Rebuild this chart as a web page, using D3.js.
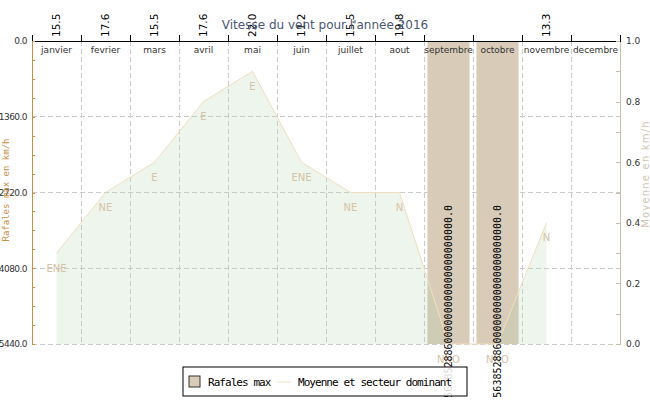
<html>
<head>
<meta charset="UTF-8"/>
<script src="https://d3js.org/d3.v7.min.js"></script>
<title>vent 2016</title>
<style>
body { margin:0; background:#fff; }
.grid line {
	stroke: #ccc;
	stroke-dasharray: 5 3;
	shape-rendering: crispEdges;
}
.axis text { font-family: "DejaVu Sans"; font-size: 9px; fill: #333; }
.axis path, .axis line { shape-rendering: crispEdges; }
</style>
</head>
<body>
<svg id='big' width=650 height=400></svg>
<script>
'use strict';

var months = ['janvier','fevrier','mars','avril','mai','juin','juillet','aout',
	'septembre','octobre','novembre','decembre'];
// valeurs affichees en haut
var moyenne = [15.5, 17.6, 15.5, 17.6, 22.0, 11.2, 15.5, 19.8, null, null, 13.3, null];
// courbe sur l'axe de droite
var courbe = [0.3, 0.5, 0.6, 0.8, 0.9, 0.6, 0.5, 0.5, 0.0, 0.0, 0.4, null];
var secteur = ['ENE','NE','E','E','E','ENE','NE','N','NNO','NNO','N', null];
var rafales = [null, null, null, null, null, null, null, null,
	5.63852886e29, 5.63852886e29, null, null];
var leftTicks = [0, 1360, 2720, 4080, 5440];
var rightTicks = [0, 0.2, 0.4, 0.6, 0.8, 1.0];

var svg = d3.select('#big');
var pLeft = 32, pRight = 620, pTop = 41, pBottom = 344;

var sx = d3.scaleBand().domain(months).range([pLeft, pRight]);
var sb = d3.scaleLinear().domain([0, 12]).range([pLeft, pRight]);
var yL = d3.scaleLinear().domain([0, 5440]).range([pTop, pBottom]).clamp(true);
var yR = d3.scaleLinear().domain([0, 1]).range([pBottom, pTop]);

// write big numbers without exponent
function bigFmt(v){
	var p = v.toExponential().split('e');
	var digits = p[0].replace('.', '');
	var e = +p[1];
	while (digits.length < e + 1) digits += '0';
	return digits + '.0';
}

// grid
var grid = svg.append('g').attr('class', 'grid');
grid.selectAll('.hline')
.data(leftTicks.slice(1))
.enter().append('line')
.attr('x1', pLeft).attr('x2', pRight)
.attr('y1', function(d){return yL(d)})
.attr('y2', function(d){return yL(d)});

grid.selectAll('.vline')
.data(d3.range(1, 12))
.enter().append('line')
.attr('x1', function(d){return sb(d)})
.attr('x2', function(d){return sb(d)})
.attr('y1', pTop).attr('y2', pBottom);

// bars rafales
var pad = sx.bandwidth() * 0.07;
var barData = months.map(function(m, i){ return {m: m, v: rafales[i]}; })
	.filter(function(d){ return d.v != null; });

svg.selectAll('.bar')
.data(barData)
.enter().append('rect')
.attr('class', 'bar')
.attr('x', function(d){return sx(d.m) + pad})
.attr('width', sx.bandwidth() - 2 * pad)
.attr('y', function(d){return yL(0)})
.attr('height', function(d){return yL(d.v) - yL(0)})
.attr('fill', '#d8ccb9');

// area + line
var pts = months.map(function(m, i){ return {m: m, v: courbe[i], s: secteur[i], a: moyenne[i]}; });
var defined = pts.filter(function(d){ return d.v != null; });

var area = d3.area()
.x(function(d){return sx(d.m) + sx.bandwidth() / 2})
.y0(pBottom)
.y1(function(d){return yR(d.v)});

var line = d3.line()
.x(function(d){return sx(d.m) + sx.bandwidth() / 2})
.y(function(d){return yR(d.v)});

svg.append('path')
.datum(defined)
.attr('d', area)
.attr('fill', 'rgba(170,205,165,0.2)');

svg.append('path')
.datum(defined)
.attr('d', line)
.attr('fill', 'none')
.attr('stroke', '#f0dfbf')
.attr('stroke-width', 1);

// secteur labels
svg.selectAll('.sect')
.data(defined)
.enter().append('text')
.attr('class', 'sect')
.attr('x', function(d){return sx(d.m) + sx.bandwidth() / 2})
.attr('y', function(d){return yR(d.v) + 15})
.attr('dy', '0.35em')
.attr('text-anchor', 'middle')
.attr('font-family', 'DejaVu Sans')
.attr('font-size', 10)
.attr('fill', '#d3c4a6')
.text(function(d){return d.s});

// top value labels
svg.selectAll('.moy')
.data(pts.filter(function(d){ return d.a != null; }))
.enter().append('text')
.attr('class', 'moy')
.attr('transform', function(d){
	return 'translate(' + (sx(d.m) + sx.bandwidth() / 2) + ',37) rotate(-90)';
})
.attr('dy', '0.35em')
.attr('font-family', 'DejaVu Sans')
.attr('font-size', 10.5)
.attr('fill', '#000')
.text(function(d){return d3.format('.1f')(d.a)});

// bar value labels
svg.selectAll('.barlab')
.data(barData)
.enter().append('text')
.attr('class', 'barlab')
.attr('transform', function(d){
	return 'translate(' + (sx(d.m) + sx.bandwidth() / 2) + ',205) rotate(-90)';
})
.attr('dy', '0.35em')
.attr('text-anchor', 'end')
.attr('font-family', 'DejaVu Sans Mono')
.attr('font-size', 10)
.attr('fill', '#000')
.text(function(d){return bigFmt(d.v)});

// top axis : month labels + boundary ticks
var xLab = svg.append('g')
.attr('class', 'axis')
.attr('transform', 'translate(0,' + pTop + ')')
.call(d3.axisBottom(sx).tickSize(0).tickPadding(6));
xLab.select('.domain').remove();

svg.append('g')
.attr('class', 'axis')
.attr('transform', 'translate(0,' + pTop + ')')
.call(d3.axisTop(sb).ticks(12).tickSize(6).tickSizeOuter(6).tickFormat(''))
.selectAll('path, line').attr('stroke', '#000');

// left axis
var yLeft = svg.append('g')
.attr('class', 'axis')
.attr('transform', 'translate(' + pLeft + ',0)')
.call(d3.axisLeft(yL)
	.tickValues(d3.range(0, 5441, 340))
	.tickSize(-3).tickSizeOuter(0).tickPadding(5)
	.tickFormat(function(d){ return leftTicks.indexOf(d) >= 0 ? d3.format('.1f')(d) : ''; }));
yLeft.selectAll('path, line').attr('stroke', '#c98e43');
yLeft.selectAll('text')
.attr('font-size', 8.2)
.attr('letter-spacing', -0.55);

svg.append('text')
.attr('transform', 'translate(9,190) rotate(-90)')
.attr('text-anchor', 'middle')
.attr('font-family', 'DejaVu Sans Mono')
.attr('font-size', 9)
.attr('fill', '#c98e43')
.text('Rafales max en km/h');

// right axis
var yRight = svg.append('g')
.attr('class', 'axis')
.attr('transform', 'translate(' + pRight + ',0)')
.call(d3.axisRight(yR)
	.tickValues(d3.range(0, 11).map(function(i){ return i / 10; }))
	.tickSize(-4).tickSizeOuter(0).tickPadding(6)
	.tickFormat(function(d){
		return rightTicks.some(function(t){ return Math.abs(t - d) < 1e-9; }) ? d3.format('.1f')(d) : '';
	}));
yRight.selectAll('path, line').attr('stroke', '#c9c0aa');

svg.append('text')
.attr('transform', 'translate(645,174) rotate(-90)')
.attr('text-anchor', 'middle')
.attr('dy', '0.35em')
.attr('font-family', 'DejaVu Sans')
.attr('font-size', 10)
.attr('letter-spacing', 1.2)
.attr('fill', '#cfc6b2')
.text('Moyenne en km/h');

// title
svg.append('text')
.attr('x', 325).attr('y', 29)
.attr('text-anchor', 'middle')
.attr('font-family', 'DejaVu Sans')
.attr('font-size', 12)
.attr('fill', '#4b5675')
.text('Vitesse du vent pour l\'année 2016');

// legend
var lg = svg.append('g').attr('transform', 'translate(183,367)');
lg.append('rect')
.attr('width', 284).attr('height', 29)
.attr('fill', 'rgba(255,255,255,0.85)')
.attr('stroke', '#000');
lg.append('rect')
.attr('x', 6).attr('y', 9).attr('width', 11).attr('height', 11)
.attr('fill', '#d8ccb9').attr('stroke', '#333');
lg.append('line')
.attr('x1', 94).attr('x2', 108).attr('y1', 15).attr('y2', 15)
.attr('stroke', '#f0dfbf');
lg.selectAll('.lt')
.data([['Rafales max', 25], ['Moyenne et secteur dominant', 115]])
.enter().append('text')
.attr('x', function(d){return d[1]})
.attr('y', 19)
.attr('font-family', 'DejaVu Sans Mono')
.attr('font-size', 11)
.attr('letter-spacing', -0.95)
.attr('fill', '#000')
.text(function(d){return d[0]});
</script>
</body>
</html>
